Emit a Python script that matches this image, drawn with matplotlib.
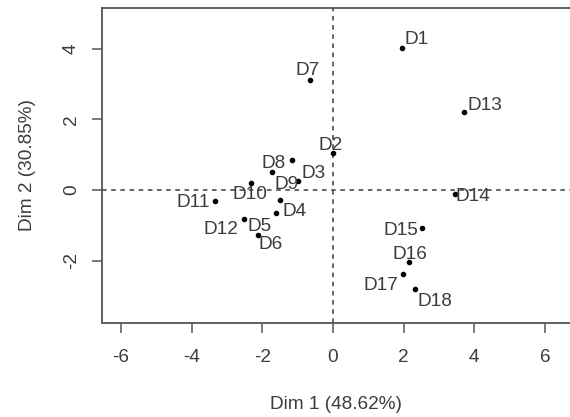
import matplotlib
matplotlib.use("Agg")
from matplotlib import pyplot as plt

plt.rcParams['font.family'] = ['Liberation Sans', 'DejaVu Sans']

# individuals on the first two dimensions
names = ['D1', 'D2', 'D3', 'D4', 'D5', 'D6', 'D7', 'D8', 'D9',
         'D10', 'D11', 'D12', 'D13', 'D14', 'D15', 'D16', 'D17', 'D18']
dim1 = [1.95, -0.01, -0.98, -1.50, -1.62, -2.12, -0.65, -1.17, -1.74,
        -2.32, -3.34, -2.51, 3.72, 3.46, 2.53, 2.16, 1.99, 2.32]
dim2 = [4.03, 1.04, 0.25, -0.28, -0.66, -1.27, 3.12, 0.85, 0.50,
        0.21, -0.31, -0.83, 2.20, -0.12, -1.07, -2.03, -2.39, -2.81]
x_ticks = [-6, -4, -2, 0, 2, 4, 6]
y_ticks = [-2, 0, 2, 4]
x_label = "Dim 1 (48.62%)"
y_label = "Dim 2 (30.85%)"

# label offsets in pixels (dx right, dy down), placed like autoLab
lab_off = [(15, -8), (-2, -8), (15, -8), (15, 12), (-16, 13), (13, 10),
           (-2, -9), (-18, 3), (15, 12), (-1, 12), (-22, 2), (-23, 10),
           (21, -7), (18, 2), (-21, 3), (1, -7), (-22, 11), (20, 12)]

DPI = 100
FS = 13.7
fig = plt.figure(figsize=(5.7, 4.17), dpi=DPI)
ax = fig.add_axes([102 / 570, 1 - 323 / 417, 1 - 102 / 570, (323 - 8) / 417])

gray = '#3c3c3c'
ax.scatter(dim1, dim2, s=9, color='black', zorder=3)
ax.axhline(0, color=gray, linestyle=(0, (3, 3)), linewidth=1.1)
ax.axvline(0, color=gray, linestyle=(0, (3, 3)), linewidth=1.1)

for n, x, y, (dx, dy) in zip(names, dim1, dim2, lab_off):
    ax.annotate(n, (x, y), xytext=(dx * 72 / DPI, -dy * 72 / DPI),
                textcoords='offset points', ha='center', va='center',
                fontsize=FS, color=gray)

ax.set_xlim(-6.54, 6.71)
ax.set_ylim(-3.77, 5.16)
ax.set_xticks(x_ticks)
ax.set_yticks(y_ticks)
ax.set_xticklabels([str(t) for t in x_ticks])
ax.set_yticklabels([str(t) for t in y_ticks], rotation=90, va='center')
ax.tick_params(direction='out', length=7, width=1.1, color='#555555',
               labelsize=FS, labelcolor=gray)
ax.tick_params(axis='x', pad=12)
ax.tick_params(axis='y', pad=9)
for side in ['left', 'bottom', 'top']:
    ax.spines[side].set_color('#555555')
    ax.spines[side].set_linewidth(1.3)
ax.spines['right'].set_visible(False)

ax.set_xlabel(x_label, fontsize=FS, color=gray, labelpad=21)
ax.set_ylabel(y_label, fontsize=FS, color=gray, labelpad=19)

fig.savefig("out.png", dpi=DPI)
